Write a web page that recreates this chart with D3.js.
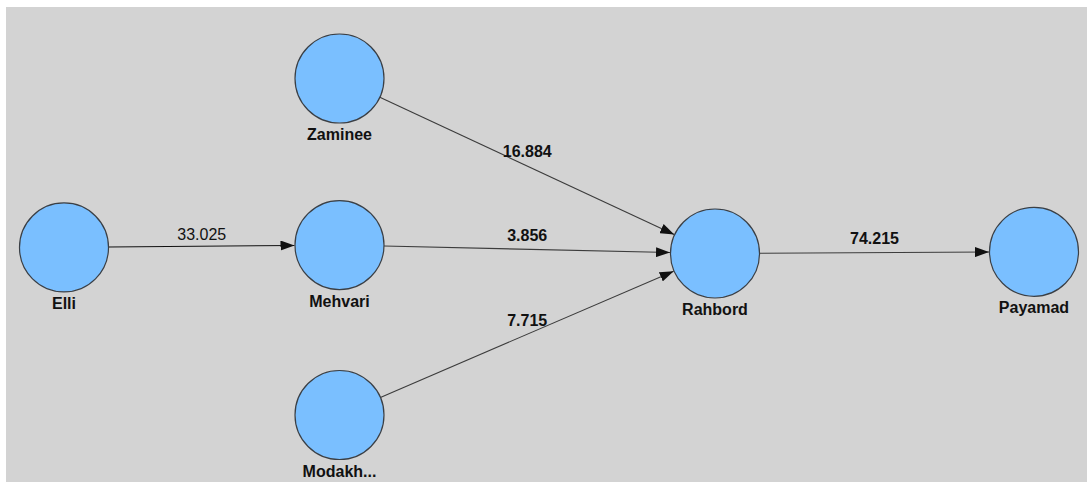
<!DOCTYPE html>
<html>
<head>
<meta charset="utf-8">
<script src="https://cdn.jsdelivr.net/npm/d3@7"></script>
<style>
  body { margin: 0; background: #fff; }
  svg { display: block; }
  text { font-family: "Liberation Sans", Arial, sans-serif; fill: #111; }
</style>
</head>
<body>
<svg id="chart" width="1087" height="482"></svg>
<script>
// constructs of the path model
var nodeNames = ["Elli", "Zaminee", "Mehvari", "Modakh...", "Rahbord", "Payamad"];
// layout of the model : column (stage) and row (model units)
var nodeCol = [0, 1, 1, 1, 2, 3];
var nodeRow = [0.004, -1, -0.01, 1, 0.04, 0.03];

// paths and their coefficients
var edgeFrom = ["Elli", "Zaminee", "Mehvari", "Modakh...", "Rahbord"];
var edgeTo = ["Mehvari", "Rahbord", "Rahbord", "Rahbord", "Payamad"];
var edgeValues = ["33.025", "16.884", "3.856", "7.715", "74.215"];

var width = 1087, height = 482, r = 44.5;

var svg = d3.select("#chart");

svg.append("rect")
  .attr("x", 6).attr("y", 7)
  .attr("width", width - 6).attr("height", height - 7)
  .attr("fill", "#d3d3d3");

var x = d3.scaleOrdinal().domain([0, 1, 2, 3]).range([64, 339.5, 715, 1034]);
var y = d3.scaleLinear().domain([-1, 1]).range([78.5, 415]);

var nodes = nodeNames.map(function(n, i) {
  return { name: n, x: x(nodeCol[i]), y: y(nodeRow[i]) };
});
var byName = {};
nodes.forEach(function(d) { byName[d.name] = d; });

var edges = edgeFrom.map(function(s, i) {
  return { source: byName[s], target: byName[edgeTo[i]], value: edgeValues[i], i: i };
});

svg.append("defs").append("marker")
  .attr("id", "arrow")
  .attr("viewBox", "0 0 14 10")
  .attr("refX", 14).attr("refY", 5)
  .attr("markerWidth", 14).attr("markerHeight", 10)
  .attr("markerUnits", "userSpaceOnUse")
  .attr("orient", "auto")
  .append("path")
  .attr("d", "M0,0 L14,5 L0,10 Z")
  .attr("fill", "#111");

// lignes entre les bords des cercles
svg.selectAll(".edge")
  .data(edges)
  .enter()
  .append("line")
  .attr("class", "edge")
  .each(function(d) {
    var dx = d.target.x - d.source.x, dy = d.target.y - d.source.y;
    var len = Math.sqrt(dx * dx + dy * dy);
    d3.select(this)
      .attr("x1", d.source.x + dx / len * r)
      .attr("y1", d.source.y + dy / len * r)
      .attr("x2", d.target.x - dx / len * (r + 0.5))
      .attr("y2", d.target.y - dy / len * (r + 0.5));
  })
  .attr("stroke", function(d) { return d.i === 0 ? "#111" : "#3c3c3c"; })
  .attr("stroke-width", 1.1)
  .attr("marker-end", "url(#arrow)");

svg.selectAll(".edge-label")
  .data(edges)
  .enter()
  .append("text")
  .attr("class", "edge-label")
  .attr("x", function(d) { return (d.source.x + d.target.x) / 2; })
  .attr("y", function(d) { return (d.source.y + d.target.y) / 2 - (d.i === 0 ? 6 : 8.5); })
  .attr("text-anchor", "middle")
  .style("font-size", "16px")
  .style("font-weight", function(d) { return d.i === 0 ? "normal" : "bold"; })
  .text(function(d) { return d.value; });

svg.selectAll(".node")
  .data(nodes)
  .enter()
  .append("circle")
  .attr("class", "node")
  .attr("cx", function(d) { return d.x; })
  .attr("cy", function(d) { return d.y; })
  .attr("r", r)
  .attr("fill", "#7abfff")
  .attr("stroke", "#3a3f45")
  .attr("stroke-width", 1.2);

svg.selectAll(".node-label")
  .data(nodes)
  .enter()
  .append("text")
  .attr("class", "node-label")
  .attr("x", function(d) { return d.x; })
  .attr("y", function(d) { return d.y + r + 17; })
  .attr("text-anchor", "middle")
  .style("font-size", "16px")
  .style("font-weight", "bold")
  .text(function(d) { return d.name; });
</script>
</body>
</html>
